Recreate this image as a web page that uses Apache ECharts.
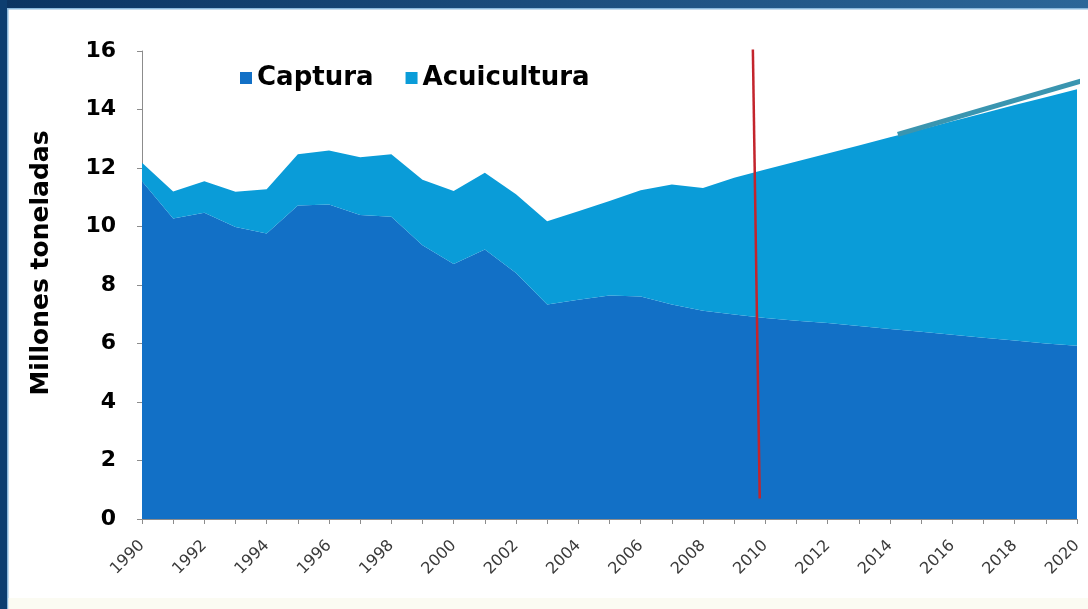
<!DOCTYPE html>
<html>
<head>
<meta charset="utf-8">
<script src="https://cdn.jsdelivr.net/npm/echarts@6/dist/echarts.min.js"></script>
<style>
html,body{margin:0;padding:0;background:#ffffff;}
#chart{width:1088px;height:609px;}
</style>
</head>
<body>
<div id="chart"></div>
<script>
var years = ['1990','1991','1992','1993','1994','1995','1996','1997','1998','1999','2000','2001','2002','2003','2004','2005','2006','2007','2008','2009','2010','2011','2012','2013','2014','2015','2016','2017','2018','2019','2020'];
var captura = [11.55,10.27,10.47,9.98,9.76,10.72,10.75,10.39,10.33,9.36,8.72,9.21,8.41,7.33,7.50,7.64,7.61,7.33,7.12,6.99,6.87,6.78,6.70,6.60,6.50,6.40,6.30,6.20,6.10,6.00,5.92];
var acuicultura = [0.63,0.93,1.08,1.21,1.51,1.75,1.85,1.98,2.14,2.24,2.49,2.63,2.69,2.85,3.02,3.23,3.63,4.11,4.20,4.68,5.08,5.44,5.80,6.17,6.55,6.92,7.30,7.67,8.05,8.42,8.77];
var yTicks = [0,2,4,6,8,10,12,14,16];
var redLine = [[2009.6,16.05],[2009.82,0.7]];
var tealLine = [[2014.25,13.15],[2020.6,15.12]];

var chart = echarts.init(document.getElementById('chart'));
chart.setOption({
  backgroundColor: '#ffffff',
  animation: false,
  graphic: [
    {type:'rect', shape:{x:0,y:0,width:1088,height:8}, z:-10,
      style:{fill:new echarts.graphic.LinearGradient(0,0,1,0,[{offset:0,color:'#0b3462'},{offset:1,color:'#2c6698'}])}},
    {type:'rect', shape:{x:0,y:8,width:1088,height:1.5}, z:-10, style:{fill:'#8ab8dc'}},
    {type:'rect', shape:{x:0,y:0,width:7,height:609}, z:-10, style:{fill:'#0d3e70'}},
    {type:'rect', shape:{x:7,y:9,width:1.5,height:600}, z:-10, style:{fill:'#8ab8dc'}},
    {type:'rect', shape:{x:8.5,y:598,width:1080,height:11}, z:-10, style:{fill:'#fbfbf2'}}
  ],
  grid: {left:142, right:11, top:51, bottom:90, containLabel:false},
  legend: {
    data:['Captura','Acuicultura'],
    left:235, top:60,
    itemWidth:12, itemHeight:12, itemGap:32,
    icon:'rect',
    textStyle:{fontFamily:'DejaVu Sans', fontWeight:'bold', fontSize:26, color:'#000'}
  },
  xAxis: [
    {
      type:'category', data:years, boundaryGap:false,
      axisLine:{show:true, lineStyle:{color:'#8c8c8c', width:1}},
      axisTick:{show:true, length:5, interval:0, lineStyle:{color:'#8c8c8c'}},
      splitLine:{show:false},
      axisLabel:{
        interval:1, rotate:45, margin:24, color:'#3a3a3a', fontFamily:'DejaVu Sans', fontSize:16
      }
    },
    {
      type:'value', min:1990, max:2020, show:false
    }
  ],
  yAxis: {
    type:'value', min:0, max:16, interval:2,
    name:'Millones toneladas', nameLocation:'middle', nameRotate:90, nameGap:88,
    nameTextStyle:{fontFamily:'DejaVu Sans', fontWeight:'bold', fontSize:25, color:'#000', padding:[0,0,0,44]},
    axisLine:{show:true, lineStyle:{color:'#8c8c8c', width:1}},
    axisTick:{show:true, length:5, lineStyle:{color:'#8c8c8c'}},
    splitLine:{show:false},
    axisLabel:{margin:26, color:'#000', fontFamily:'DejaVu Sans', fontWeight:'bold', fontSize:22,
      formatter:function(v){ return yTicks.indexOf(v) >= 0 ? String(v) : ''; }}
  },
  series: [
    {name:'Captura', type:'line', stack:'total', data:captura, symbol:'none', xAxisIndex:0,
      lineStyle:{width:0}, itemStyle:{color:'#1270c6'}, areaStyle:{color:'#1270c6', opacity:1}},
    {name:'Acuicultura', type:'line', stack:'total', data:acuicultura, symbol:'none', xAxisIndex:0,
      lineStyle:{width:0}, itemStyle:{color:'#0a9cd8'}, areaStyle:{color:'#0a9cd8', opacity:1}},
    {name:'redline', type:'line', data:redLine, symbol:'none', clip:false, z:5, xAxisIndex:1,
      lineStyle:{color:'#c3242c', width:2.5}, itemStyle:{color:'#c3242c'}},
    {name:'tealline', type:'line', data:tealLine, symbol:'none', clip:false, z:5, xAxisIndex:1,
      lineStyle:{color:'#3a95b0', width:5}, itemStyle:{color:'#3a95b0'}}
  ]
});
</script>
</body>
</html>
